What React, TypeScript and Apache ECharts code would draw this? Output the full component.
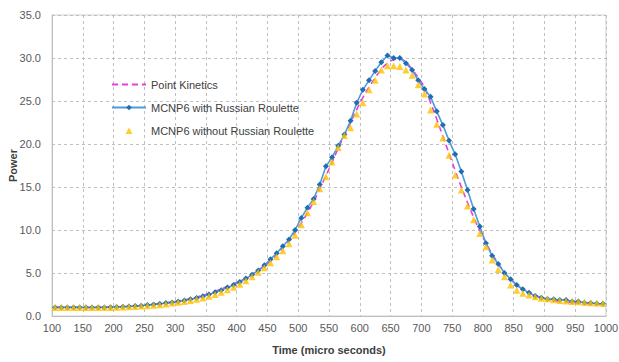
import React, { useEffect, useRef } from "react";
import * as echarts from "echarts";

const times = [
  105, 115, 125, 135, 145, 155, 165, 175, 185, 195,
  205, 215, 225, 235, 245, 255, 265, 275, 285, 295,
  305, 315, 325, 335, 345, 355, 365, 375, 385, 395,
  405, 415, 425, 435, 445, 455, 465, 475, 485, 495,
  505, 515, 525, 535, 545, 555, 565, 575, 585, 595,
  605, 615, 625, 635, 645, 655, 665, 675, 685, 695,
  705, 715, 725, 735, 745, 755, 765, 775, 785, 795,
  805, 815, 825, 835, 845, 855, 865, 875, 885, 895,
  905, 915, 925, 935, 945, 955, 965, 975, 985, 995,
];

const pointKinetics = [
  1.0, 1.0, 1.0, 1.0, 1.0, 1.0, 1.0, 1.0, 1.02, 1.04,
  1.06, 1.09, 1.12, 1.16, 1.21, 1.27, 1.34, 1.42, 1.51, 1.62,
  1.74, 1.88, 2.03, 2.2, 2.4, 2.62, 2.87, 3.15, 3.45, 3.75,
  4.05, 4.4, 4.85, 5.3, 5.8, 6.4, 7.1, 7.9, 8.7, 9.7,
  10.8, 12.0, 13.3, 14.8, 16.3, 17.9, 19.5, 21.0, 22.5, 24.0,
  25.4, 26.6, 27.7, 28.7, 29.4, 29.8, 29.9, 29.5, 28.7, 27.7,
  26.6, 24.8, 22.9, 20.9, 18.9, 16.9, 15.0, 13.2, 11.5, 9.9,
  8.5, 7.2, 6.1, 5.1, 4.3, 3.6, 3.1, 2.7, 2.4, 2.15,
  1.95, 1.8, 1.7, 1.62, 1.55, 1.5, 1.46, 1.42, 1.39, 1.36,
];

const withRR = [
  1.0, 1.0, 1.0, 1.0, 1.0, 0.98, 0.98, 1.0, 1.0, 1.02,
  1.05, 1.08, 1.1, 1.15, 1.2, 1.28, 1.35, 1.42, 1.5, 1.58,
  1.68, 1.8, 1.95, 2.1, 2.3, 2.5, 2.75, 3.0, 3.3, 3.6,
  3.95, 4.35, 4.8, 5.3, 5.9, 6.6, 7.3, 8.1, 8.9, 10.0,
  11.4, 12.6, 13.6, 15.3, 17.4, 18.45, 19.8, 21.1, 22.7, 24.8,
  26.3, 27.4, 28.5, 29.5, 30.3, 30.0, 30.0, 29.4, 28.6, 27.4,
  26.4, 25.5, 23.8, 22.2, 20.4, 18.8, 16.8, 14.65, 12.45, 10.4,
  8.45, 7.0, 6.05, 5.0, 4.27, 3.6, 3.1, 2.7, 2.33, 2.13,
  1.98, 1.94, 1.86, 1.86, 1.7, 1.7, 1.55, 1.5, 1.45, 1.42,
];

const withoutRR = [
  0.98, 0.98, 0.98, 0.98, 0.98, 0.98, 0.98, 0.98, 1.0, 1.0,
  1.02, 1.05, 1.08, 1.1, 1.15, 1.2, 1.25, 1.3, 1.4, 1.5,
  1.6, 1.7, 1.8, 1.95, 2.1, 2.3, 2.5, 2.75, 3.05, 3.35,
  3.7, 4.1, 4.55, 5.1, 5.6, 6.2, 6.9, 7.6, 8.4, 9.4,
  10.6, 12.0, 13.3, 14.8, 16.2, 17.9, 19.6, 21.0, 21.9, 23.5,
  24.8, 26.3, 27.4, 28.6, 29.1, 29.1, 29.0, 28.6, 28.0, 26.9,
  25.8, 23.95, 22.3, 20.7, 18.7, 16.4, 14.65, 12.8, 11.2, 9.6,
  8.06, 6.5, 5.4, 4.57, 3.6, 3.0, 2.64, 2.44, 2.25, 2.06,
  2.0, 1.9, 1.8, 1.75, 1.7, 1.65, 1.6, 1.55, 1.5, 1.45,
];

const seriesNames = [
  "Point Kinetics",
  "MCNP6 with Russian Roulette",
  "MCNP6 without Russian Roulette",
];

const FONT = "Liberation Sans";

// small centred triangle inside a 34x7 box (corner points only set the box)
const TRIANGLE_ICON = "path://M0,0L0,0M34,7L34,7M13.5,7L17,0.5L20.5,7Z";

export default function App() {
  const ref = useRef<HTMLDivElement>(null);
  useEffect(() => {
    if (!ref.current) return;
    const chart = echarts.init(ref.current, undefined, { renderer: "svg" });
    const pair = (vals: number[]) => times.map((t, i) => [t, vals[i]]);
    chart.setOption({
      animation: false,
      backgroundColor: "#ffffff",
      textStyle: { fontFamily: FONT },
      grid: {
        left: 52,
        right: 13,
        top: 15,
        bottom: 46,
        containLabel: false,
        outerBoundsMode: "none",
        show: true,
        borderColor: "#d0d0d0",
        borderWidth: 1,
      },
      legend: {
        orient: "vertical",
        left: 106,
        top: 74,
        itemWidth: 34,
        itemHeight: 7,
        itemGap: 12,
        textStyle: { fontFamily: FONT, fontSize: 11, color: "#404040" },
        data: [
          { name: seriesNames[0], itemStyle: { opacity: 0 } },
          { name: seriesNames[1] },
          { name: seriesNames[2], icon: TRIANGLE_ICON },
        ],
      },
      xAxis: {
        type: "value",
        min: 100,
        max: 1000,
        interval: 50,
        name: "Time (micro seconds)",
        nameLocation: "middle",
        nameGap: 28,
        nameMoveOverlap: false,
        nameTextStyle: { fontFamily: FONT, fontSize: 11, fontWeight: "bold", color: "#404040" },
        axisLine: { show: true, lineStyle: { color: "#bfbfbf" } },
        axisTick: { show: false },
        axisLabel: {
          fontFamily: FONT,
          fontSize: 11,
          color: "#595959",
          margin: 6,
          formatter: (v: number) => String(v),
        },
        splitLine: { show: true, lineStyle: { color: "#bfbfbf", type: [3, 3] } },
      },
      yAxis: {
        type: "value",
        min: 0,
        max: 35,
        interval: 5,
        name: "Power",
        nameLocation: "middle",
        nameGap: 34,
        nameMoveOverlap: false,
        nameTextStyle: { fontFamily: FONT, fontSize: 11, fontWeight: "bold", color: "#404040" },
        axisLine: { show: true, lineStyle: { color: "#bfbfbf" } },
        axisTick: { show: false },
        axisLabel: {
          fontFamily: FONT,
          fontSize: 11,
          color: "#595959",
          margin: 11,
          formatter: (v: number) => v.toFixed(1),
        },
        splitLine: { show: true, lineStyle: { color: "#bfbfbf", type: [3, 3] } },
      },
      series: [
        {
          name: seriesNames[0],
          type: "line",
          data: pair(pointKinetics),
          smooth: true,
          showSymbol: false,
          symbol: "none",
          itemStyle: { color: "#e840d8" },
          lineStyle: { color: "#e840d8", width: 1.6, type: [6, 4] },
          z: 2,
        },
        {
          name: seriesNames[1],
          type: "line",
          data: pair(withRR),
          symbol: "diamond",
          symbolSize: 6,
          itemStyle: { color: "#1f6db4" },
          lineStyle: { color: "#4d9bd8", width: 1.6 },
          z: 3,
        },
        {
          name: seriesNames[2],
          type: "scatter",
          data: pair(withoutRR),
          symbol: "triangle",
          symbolSize: 7,
          itemStyle: { color: "#ffc000" },
          z: 4,
        },
      ],
    });
    return () => chart.dispose();
  }, []);
  return (
    <div
      ref={ref}
      style={{ position: "fixed", left: 0, top: 0, width: 619, height: 362 }}
    />
  );
}
